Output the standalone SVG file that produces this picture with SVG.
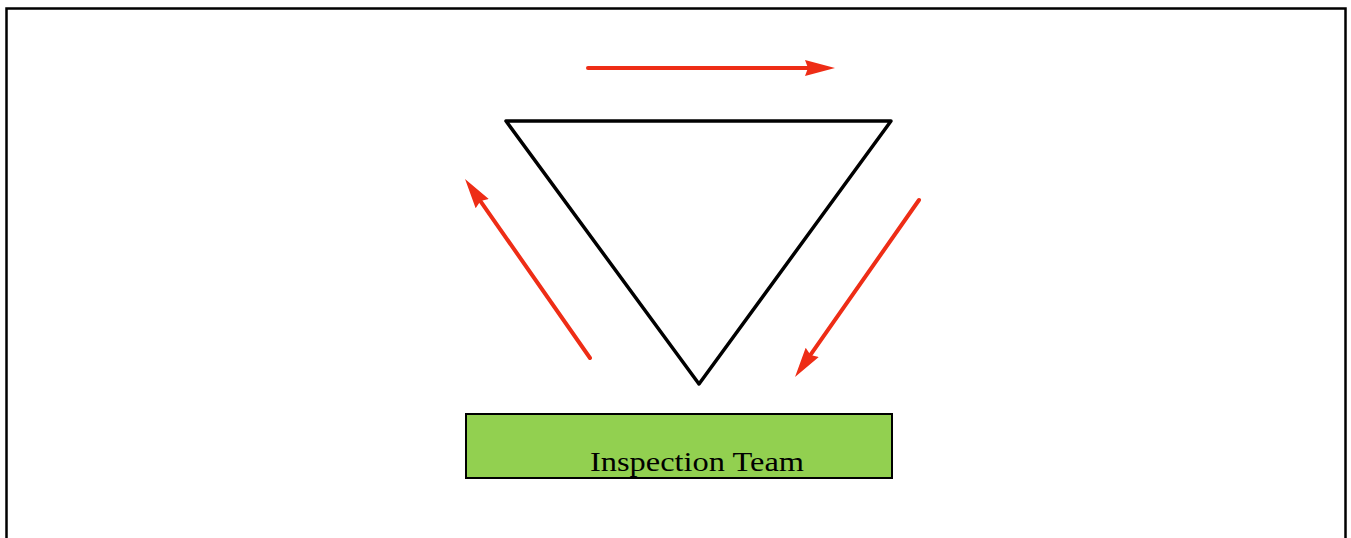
<svg xmlns="http://www.w3.org/2000/svg" width="1351" height="538" viewBox="0 0 1351 538">
<style>
.arrow{stroke:#EE2D16;stroke-width:4;fill:none;stroke-linecap:round}
.tri{stroke:#000;stroke-width:3.5;fill:none;stroke-linejoin:round}
.box{fill:#92D050;stroke:#000;stroke-width:2}
.lbl{font-family:"Liberation Serif","Times New Roman",serif;font-size:28px;fill:#000}
</style>
<defs>
<marker id="ah" markerUnits="userSpaceOnUse" markerWidth="32" markerHeight="20" refX="18" refY="10" orient="auto">
<path d="M0,2 L30,10 L0,18 L3,10 Z" fill="#EE2D16"/>
</marker>
</defs>
<rect x="6.5" y="8.5" width="1339" height="540" fill="none" stroke="#000" stroke-width="2.5"/>
<g id="triangle">
<polygon class="tri" points="506,121 891,121 699,384"/>
</g>
<g id="inspection-team">
<rect class="box" x="466" y="414" width="426" height="64"/>
<text class="lbl" x="590" y="471" textLength="214" lengthAdjust="spacingAndGlyphs">Inspection Team</text>
</g>
<g id="connectors">
<line class="arrow" x1="588" y1="68" x2="823" y2="68" marker-end="url(#ah)"/>
<line class="arrow" x1="919" y1="200" x2="801.9" y2="367.2" marker-end="url(#ah)"/>
<line class="arrow" x1="590" y1="358" x2="471.9" y2="188.8" marker-end="url(#ah)"/>
</g>
</svg>
